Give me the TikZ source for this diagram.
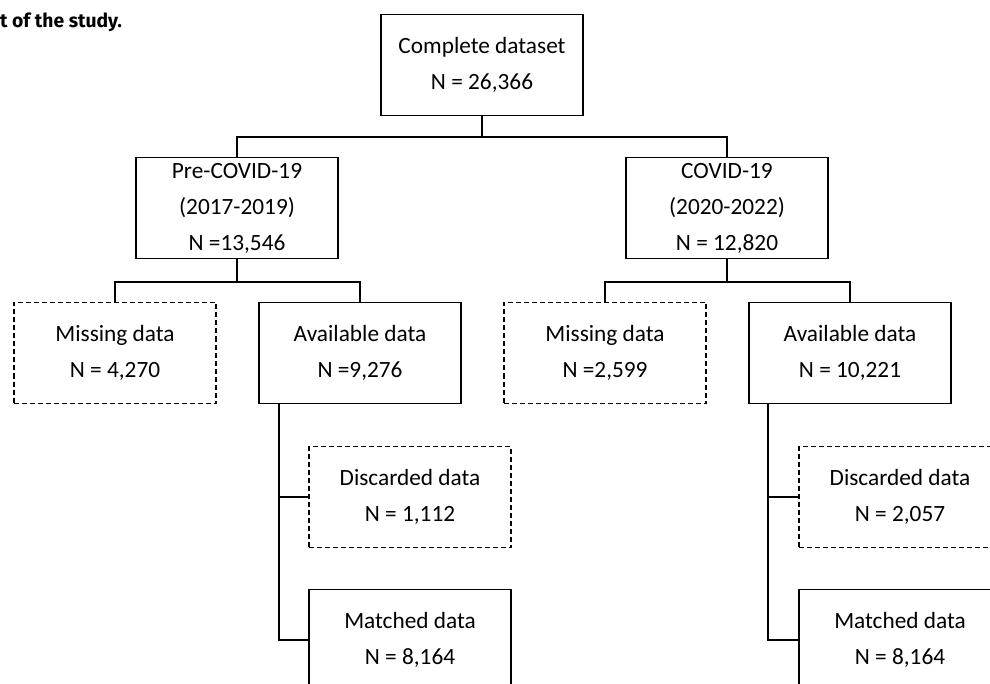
\documentclass[tikz,border=0pt]{standalone}
\usepackage{fontspec}
\setmainfont{Carlito}
\newfontfamily\titlefont{Fira Sans}
\begin{document}
\begin{tikzpicture}[x=1pt,y=-1pt,
  box/.style={draw, line width=1.6pt, minimum width=202pt, minimum height=101pt, inner sep=0pt, align=center, font=\fontsize{23.3}{36}\selectfont},
  dbox/.style={box, dashed, dash pattern=on 5pt off 3pt},
  conn/.style={line width=1.6pt}]
\useasboundingbox (0,0) rectangle (990,684);
\clip (0,0) rectangle (990,684);
\fill[white] (0,0) rectangle (990,684);
\node[anchor=base west, inner sep=0pt, font=\titlefont\bfseries\fontsize{19.3}{21}\selectfont] (title) at (0,28) {t of the study.};
\node[box] (comp) at (482,65) {Complete dataset\\N = 26,366};
\node[box] (pre) at (237,208) {Pre-COVID-19\\(2017-2019)\\N =13,546};
\node[box] (cov) at (727,208) {COVID-19\\(2020-2022)\\N = 12,820};
\node[dbox] (miss1) at (115,353) {Missing data\\N = 4,270};
\node[box] (avail1) at (360,353) {Available data\\N =9,276};
\node[dbox] (miss2) at (605,353) {Missing data\\N =2,599};
\node[box] (avail2) at (850,353) {Available data\\N = 10,221};
\node[dbox] (disc1) at (410,497) {Discarded data\\N = 1,112};
\node[box] (match1) at (410,640) {Matched data\\N = 8,164};
\node[dbox] (disc2) at (900,497) {Discarded data\\N = 2,057};
\node[box] (match2) at (900,640) {Matched data\\N = 8,164};
\coordinate (j0) at (482,137);
\coordinate (j1) at (237,282);
\coordinate (j2) at (727,282);
\draw[conn] (comp.south) -- (j0);
\draw[conn] (pre.north) |- (j0) -| (cov.north);
\draw[conn] (pre.south) -- (j1);
\draw[conn] (miss1.north) |- (j1) -| (avail1.north);
\draw[conn] (cov.south) -- (j2);
\draw[conn] (miss2.north) |- (j2) -| (avail2.north);
\coordinate (t1) at ([xshift=21pt]avail1.south west);
\coordinate (t2) at ([xshift=20pt]avail2.south west);
\draw[conn] (t1) |- (match1.west);
\draw[conn] (disc1.west) -- (disc1.west -| t1);
\draw[conn] (t2) |- (match2.west);
\draw[conn] (disc2.west) -- (disc2.west -| t2);
\end{tikzpicture}
\end{document}
